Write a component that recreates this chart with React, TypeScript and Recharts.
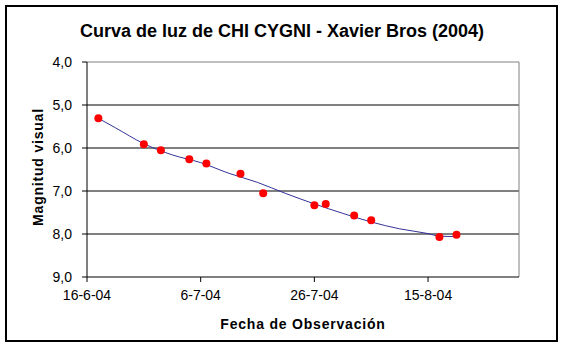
import React from 'react';
import { ComposedChart, Line, Scatter, XAxis, YAxis, CartesianGrid, ReferenceLine, Label } from 'recharts';

// Observations of CHI CYGNI (date, visual magnitude)
const obsDates = [
  '2004-06-18', '2004-06-26', '2004-06-29', '2004-07-04', '2004-07-07', '2004-07-13', '2004-07-17',
  '2004-07-26', '2004-07-28', '2004-08-02', '2004-08-05', '2004-08-17', '2004-08-20',
];
const obsMags = [5.31, 5.91, 6.05, 6.26, 6.36, 6.6, 7.05, 7.33, 7.3, 7.57, 7.68, 8.07, 8.02];

// Trend line
const trendDates = [
  '2004-06-18', '2004-06-21', '2004-06-26', '2004-07-01', '2004-07-06', '2004-07-11', '2004-07-16',
  '2004-07-21', '2004-07-26', '2004-07-31', '2004-08-05', '2004-08-10', '2004-08-15', '2004-08-17', '2004-08-20',
];
const trendMags = [5.31, 5.53, 5.9, 6.16, 6.34, 6.59, 6.8, 7.06, 7.3, 7.52, 7.72, 7.88, 7.99, 8.05, 8.06];

const xTickDates = ['2004-06-16', '2004-07-06', '2004-07-26', '2004-08-15'];
const xDomainDates = ['2004-06-16', '2004-08-31'];
const yTicks = [4, 5, 6, 7, 8, 9];
const gridValues = [5, 6, 7, 8];

const TITLE = 'Curva de luz de CHI CYGNI - Xavier Bros (2004)';
const X_TITLE = 'Fecha de Observación';
const Y_TITLE = 'Magnitud visual';

const ts = (s: string) => {
  const [y, m, d] = s.split('-').map(Number);
  return Date.UTC(y, m - 1, d);
};
const fmtDate = (t: number) => {
  const d = new Date(t);
  return `${d.getUTCDate()}-${d.getUTCMonth() + 1}-${String(d.getUTCFullYear()).slice(2)}`;
};
const fmtMag = (v: number) => v.toFixed(1).replace('.', ',');

const obsData = obsDates.map((d, i) => ({ t: ts(d), mag: obsMags[i] }));
const trendData = trendDates.map((d, i) => ({ t: ts(d), mag: trendMags[i] }));
const xTicks = xTickDates.map(ts);
const xDomain = xDomainDates.map(ts);

const FONT = '"Liberation Sans", Arial, sans-serif';

const RedDot = (props: any) => <circle cx={props.cx} cy={props.cy} r={4} fill="#FF0000" />;

export default function App() {
  return (
    <div style={{ position: 'absolute', left: 0, top: 0, width: 564, height: 347, background: '#fff', fontFamily: FONT }}>
      <div
        style={{
          position: 'absolute', left: 5, top: 5, width: 553, height: 337,
          border: '2px solid #000', boxSizing: 'border-box',
        }}
      />
      <div
        style={{
          position: 'absolute', left: 0, top: 21, width: 564, textAlign: 'center',
          fontSize: 18, fontWeight: 'bold', lineHeight: '20px', color: '#000',
        }}
      >
        {TITLE}
      </div>
      <div style={{ position: 'absolute', left: 0, top: 0 }}>
        <ComposedChart width={564} height={347} margin={{ top: 62, right: 45, bottom: 10, left: 0 }}>
          <CartesianGrid horizontal vertical={false} horizontalValues={gridValues} stroke="#000" strokeDasharray="" />
          <XAxis
            dataKey="t"
            type="number"
            domain={xDomain}
            ticks={xTicks}
            tickFormatter={fmtDate}
            height={60}
            tickSize={5}
            tickMargin={8}
            axisLine={{ stroke: '#000' }}
            tickLine={{ stroke: '#000' }}
            tick={{ fill: '#000', fontSize: 14, fontFamily: FONT }}
            allowDataOverflow
          >
            <Label
              value={X_TITLE}
              position="insideBottom"
              offset={8}
              style={{ fontWeight: 'bold', fontSize: 14, fontFamily: FONT, fill: '#000', letterSpacing: 0.8 }}
            />
          </XAxis>
          <YAxis
            type="number"
            domain={[4, 9]}
            ticks={yTicks}
            reversed
            tickFormatter={fmtMag}
            width={87}
            tickSize={5}
            tickMargin={10}
            axisLine={{ stroke: '#000' }}
            tickLine={{ stroke: '#000' }}
            tick={{ fill: '#000', fontSize: 14, fontFamily: FONT }}
            allowDataOverflow
          >
            <Label
              content={() => (
                <text
                  x={38}
                  y={167}
                  transform="rotate(-90 38 167)"
                  textAnchor="middle"
                  dominantBaseline="central"
                  style={{ fontWeight: 'bold', fontSize: 14, fontFamily: FONT, fill: '#000', letterSpacing: 0.8 }}
                >
                  {Y_TITLE}
                </text>
              )}
            />
          </YAxis>
          <ReferenceLine y={4} stroke="#808080" />
          <ReferenceLine x={xDomain[1]} stroke="#808080" />
          <Line
            data={trendData}
            dataKey="mag"
            type="monotone"
            stroke="#333399"
            strokeWidth={1}
            dot={false}
            activeDot={false}
            isAnimationActive={false}
          />
          <Scatter data={obsData} dataKey="mag" shape={RedDot} isAnimationActive={false} />
        </ComposedChart>
      </div>
    </div>
  );
}
